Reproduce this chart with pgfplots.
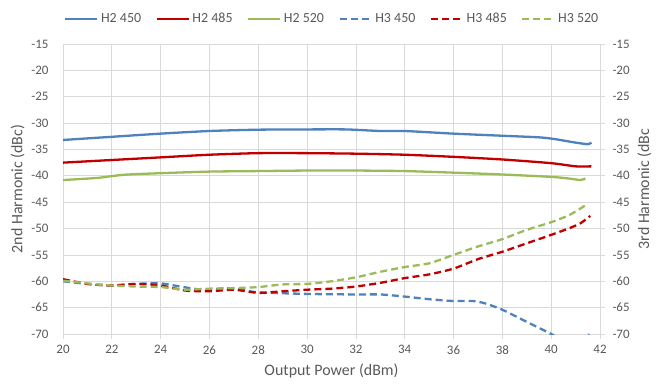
\documentclass[border=0pt]{standalone}
\usepackage{fontspec}
\setmainfont{Carlito}
\usepackage{pgfplots}
\pgfplotsset{compat=1.18}
\definecolor{cblue}{HTML}{4F81BD}
\definecolor{cred}{HTML}{C00000}
\definecolor{cgreen}{HTML}{9BBB59}
\definecolor{txt}{HTML}{595959}
\definecolor{gridc}{HTML}{D9D9D9}
\pgfplotsset{
  base/.style={
    scale only axis, width=537bp, height=290bp,
    xmin=20, xmax=42, ymin=-70, ymax=-15,
    xtick={20,22,...,42}, ytick={-70,-65,...,-15},
    /pgf/number format/assume math mode=true,
    ticklabel style={font=\fontsize{13}{15}\selectfont, text=txt},
    label style={font=\fontsize{16}{18}\selectfont, text=txt},
    axis line style={gridc, line width=0.75bp},
    tick style={gridc, line width=0.75bp},
    tick align=outside, major tick length=5bp,
  },
  h2/.style={line width=2.3bp, smooth, tension=0.4},
  h3/.style={line width=2.3bp, dash pattern=on 7bp off 4bp, smooth, tension=0.4},
}
\begin{document}
\begin{tikzpicture}
\useasboundingbox (-63bp,-50bp) rectangle (604bp,334bp);
\begin{axis}[base,
  anchor=south west, at={(0,0)},
  axis x line*=bottom, axis y line*=left,
  ytick style={draw=none},
  grid=major, major grid style={gridc, line width=0.75bp},
  xticklabel style={yshift=-3bp},
  yticklabel style={xshift=-6bp},
  ylabel={2nd Harmonic (dBc)},
  ylabel style={yshift=0bp},
  xlabel={Output Power (dBm)},
  xlabel style={yshift=-3bp},
]
\addplot[h2, cblue] coordinates {
(20,-33.2) (22,-32.6) (24,-32.0) (26,-31.5) (28,-31.25) (30,-31.2) (31.6,-31.2)
(33,-31.5) (34,-31.5) (36,-32.0) (38,-32.4) (39.5,-32.7) (40.1,-33.0) (41,-33.7)
(41.5,-34.0) (41.65,-33.7)};
\addplot[h2, cred] coordinates {
(20,-37.5) (22,-37.0) (24,-36.5) (26,-36.0) (28,-35.7) (30,-35.7) (32,-35.8)
(34,-36.0) (36,-36.4) (38,-36.9) (40,-37.6) (41,-38.2) (41.65,-38.2)};
\addplot[h2, cgreen] coordinates {
(20,-40.8) (21.4,-40.4) (22.5,-39.8) (24,-39.5) (26,-39.2) (28,-39.1) (30,-39.0)
(32,-39.0) (34,-39.1) (36,-39.4) (38,-39.75) (40,-40.2) (40.7,-40.5) (41.2,-40.8) (41.4,-40.5)};
\end{axis}
\begin{axis}[base,
  anchor=south west, at={(0,0)},
  axis x line=none, axis y line*=right,
  yticklabel style={xshift=4bp},
  ylabel={3rd Harmonic (dBc},
  ylabel style={yshift=-1bp},
  legend cell align=left,
  legend style={at={(0.5,1)}, anchor=south, yshift=19bp, draw=none, fill=none,
    legend columns=6, font=\fontsize{14}{16}\selectfont, text=txt,
    inner sep=0pt, nodes={inner sep=0.5bp},
    /tikz/every odd column/.append style={column sep=2bp},
    /tikz/every even column/.append style={column sep=14bp}},
  legend image code/.code={\draw[#1] (0bp,0bp) -- (32bp,0bp);},
]
\addlegendimage{h2, cblue}
\addlegendentry{H2 450}
\addlegendimage{h2, cred}
\addlegendentry{H2 485}
\addlegendimage{h2, cgreen}
\addlegendentry{H2 520}
\addplot[h3, cblue] coordinates {
(20,-60.0) (21,-60.5) (22,-60.8) (23,-60.5) (24,-60.4) (24.8,-61.0) (25.5,-61.5)
(26,-61.6) (26.7,-61.3) (27.3,-61.6) (28,-62.1) (30,-62.4) (32,-62.5) (33,-62.5)
(34,-62.9) (35,-63.4) (36,-63.75) (36.8,-63.75) (37.3,-64.2) (38,-65.4) (39,-67.7)
(40,-70.0) (40.6,-71.5) (41.2,-71.5) (41.55,-70.0)};
\addlegendentry{H3 450}
\addplot[h3, cred] coordinates {
(20,-59.6) (21,-60.5) (22,-60.8) (23,-60.5) (24,-60.8) (25,-61.75) (26,-61.9)
(27,-61.6) (28,-62.2) (29,-61.9) (30,-61.6) (31,-61.4) (32,-61.0) (33,-60.3)
(34,-59.4) (35,-58.7) (36,-57.6) (37,-55.8) (38,-54.4) (39,-52.8) (40,-51.2)
(40.76,-49.9) (41.2,-49.0) (41.6,-47.6)};
\addlegendentry{H3 485}
\addplot[h3, cgreen] coordinates {
(20,-59.9) (21.4,-60.6) (22,-60.8) (23,-61.0) (24,-61.1) (25,-61.6) (26,-61.4)
(27,-61.3) (28,-61.1) (29,-60.6) (30,-60.5) (31,-60.0) (32,-59.25) (33,-58.2)
(34,-57.3) (35,-56.6) (36,-55.0) (37,-53.4) (38,-52.0) (39,-50.25) (40,-48.8)
(40.76,-47.4) (41.4,-45.6)};
\addlegendentry{H3 520}
\end{axis}
\end{tikzpicture}
\end{document}
